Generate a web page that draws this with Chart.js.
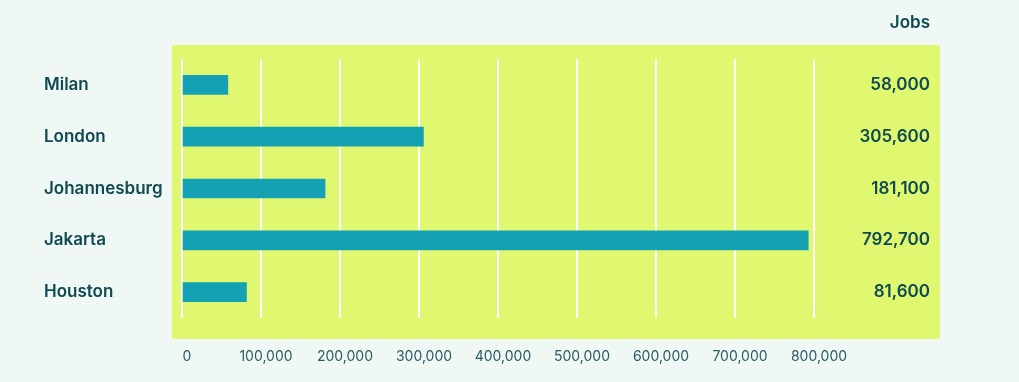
<!DOCTYPE html>
<html>
<head>
<meta charset="utf-8">
<script src="https://cdn.jsdelivr.net/npm/chart.js@4/dist/chart.umd.min.js"></script>
<style>
  html, body { margin: 0; padding: 0; background: #eff8f4; }
  #wrap { width: 1019px; height: 382px; position: relative; }
</style>
</head>
<body>
<div id="wrap"><canvas id="c"></canvas></div>
<script>
const categories = ['Milan', 'London', 'Johannesburg', 'Jakarta', 'Houston'];
const jobs = [58000, 305600, 181100, 792700, 81600];
const xTicks = [0, 100000, 200000, 300000, 400000, 500000, 600000, 700000, 800000];
const valueHeader = 'Jobs';

const TEXT = '#0e4a50';
const fmt = v => v.toLocaleString('en-US');
const FONT = 'Inter, "Open Sans", sans-serif';

const panelPlugin = {
  id: 'panel',
  beforeDraw(chart) {
    const ctx = chart.ctx;
    const a = chart.chartArea;
    const y2 = chart.scales.y2;
    ctx.save();
    ctx.fillStyle = '#eff8f4';
    ctx.fillRect(0, 0, chart.width, chart.height);
    ctx.fillStyle = '#dff870';
    ctx.fillRect(a.left - 10, a.top - 14, (y2.right + 10) - (a.left - 10), (a.bottom + 21) - (a.top - 14));
    ctx.restore();
  },
  afterDraw(chart) {
    const ctx = chart.ctx;
    const y2 = chart.scales.y2;
    ctx.save();
    ctx.fillStyle = TEXT;
    ctx.font = '600 17px ' + FONT;
    ctx.textAlign = 'right';
    ctx.textBaseline = 'middle';
    ctx.fillText(valueHeader, y2.right, 23);
    ctx.restore();
  }
};

new Chart(document.getElementById('c'), {
  type: 'bar',
  data: {
    labels: categories,
    datasets: [{
      data: jobs,
      backgroundColor: '#14a1b4',
      barThickness: 19,
      xAxisID: 'x',
      yAxisID: 'y'
    }]
  },
  options: {
    indexAxis: 'y',
    responsive: true,
    maintainAspectRatio: false,
    animation: false,
    layout: { padding: { left: 44, right: 89, top: 59, bottom: 0 } },
    plugins: { legend: { display: false }, tooltip: { enabled: false } },
    scales: {
      x: {
        type: 'linear',
        min: 0,
        max: 800000,
        afterBuildTicks(scale) { scale.ticks = xTicks.map(v => ({ value: v })); },
        afterFit(scale) { scale.height = 64; },
        border: { display: false },
        grid: { color: '#ffffff', lineWidth: 2, drawTicks: false },
        ticks: {
          padding: 30,
          labelOffset: 5,
          color: '#2b5b63',
          font: { family: FONT, size: 14, weight: '400' },
          callback: v => fmt(v)
        }
      },
      y: {
        type: 'category',
        position: 'left',
        afterFit(scale) { scale.width = 138; },
        border: { display: false },
        grid: { display: false },
        ticks: {
          crossAlign: 'far',
          color: TEXT,
          font: { family: FONT, size: 17, weight: '600' }
        }
      },
      y2: {
        type: 'category',
        position: 'right',
        labels: jobs.map(fmt),
        afterFit(scale) { scale.width = 116; },
        border: { display: false },
        grid: { display: false },
        ticks: {
          crossAlign: 'far',
          color: TEXT,
          font: { family: FONT, size: 17, weight: '600' }
        }
      }
    }
  },
  plugins: [panelPlugin]
});
</script>
</body>
</html>
